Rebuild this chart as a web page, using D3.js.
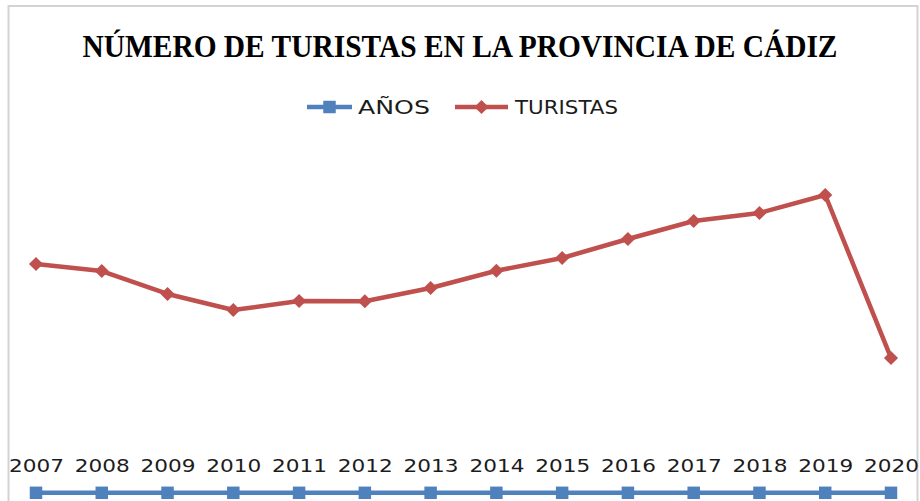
<!DOCTYPE html>
<html lang="es">

<head>
  <meta charset="UTF-8">
  <title>Turistas Cádiz</title>
  <style>
    body { margin: 0; background: #fff; }
  </style>
</head>

<body>
  <svg width="920" height="501" class="svgs"></svg>
  <script src="https://cdn.jsdelivr.net/npm/d3@7/dist/d3.min.js"></script>
  <script>
    const years = ['2007', '2008', '2009', '2010', '2011', '2012', '2013',
      '2014', '2015', '2016', '2017', '2018', '2019', '2020']
    const anos = [2007, 2008, 2009, 2010, 2011, 2012, 2013,
      2014, 2015, 2016, 2017, 2018, 2019, 2020]
    const turistas = [2323000, 2252000, 2019000, 1856000, 1948000, 1945000, 2080000,
      2255000, 2384000, 2577000, 2759000, 2841000, 3023000, 1370000]
    const seriesNames = ['AÑOS', 'TURISTAS']
    const title = 'NÚMERO DE TURISTAS EN LA PROVINCIA DE CÁDIZ'

    const blue = '#4f81bd'
    const red = '#c0504d'

    const mainsvg = d3.select('.svgs')
    const width = +(mainsvg.attr('width'))
    const height = +(mainsvg.attr('height'))

    // chart frame (bottom edge falls outside the picture)
    mainsvg.append('rect')
      .attr('x', 8.5).attr('y', 6)
      .attr('width', 909).attr('height', 540)
      .attr('fill', 'white')
      .attr('stroke', '#d3d3d3')
      .attr('stroke-width', 2)

    const xScale = d3.scalePoint()
      .domain(years)
      .range([36, 891])

    const yScale = d3.scaleLinear()
      .domain([0, 3500000])
      .range([493, 148])

    const g = mainsvg.append('g').attr('id', 'maingroup')

    // title
    g.append('text')
      .text(title)
      .attr('x', width / 2)
      .attr('y', 57)
      .attr('text-anchor', 'middle')
      .attr('font-family', 'Liberation Serif, serif')
      .attr('font-weight', 'bold')
      .attr('font-size', 31)
      .attr('textLength', 755)
      .attr('lengthAdjust', 'spacingAndGlyphs')
      .attr('fill', '#000')

    // category axis
    const xAxis = d3.axisBottom(xScale).tickSize(0).tickPadding(3)
    const axisG = g.append('g').attr('transform', 'translate(0, 456)').call(xAxis)
    axisG.select('.domain').remove()
    axisG.selectAll('.tick text')
      .attr('font-family', 'DejaVu Sans, sans-serif')
      .attr('font-size', 18)
      .attr('fill', '#1c1c1c')
      .attr('textLength', 55)
      .attr('lengthAdjust', 'spacingAndGlyphs')

    const line = d3.line()
      .x(d => xScale(d.year))
      .y(d => yScale(d.value))

    const series = [
      { name: seriesNames[0], color: blue, shape: 'square', data: years.map((y, i) => ({ year: y, value: anos[i] })) },
      { name: seriesNames[1], color: red, shape: 'diamond', data: years.map((y, i) => ({ year: y, value: turistas[i] })) }
    ]

    const squareSym = d3.symbol().type(d3.symbolSquare).size(156)
    const diamondSym = d3.symbol().type(d3.symbolSquare).size(100)

    function marker(sel, s, x, y) {
      sel.append('path')
        .attr('d', s.shape === 'square' ? squareSym() : diamondSym())
        .attr('transform', `translate(${x}, ${y})` + (s.shape === 'diamond' ? ' rotate(45)' : ''))
        .attr('fill', s.color)
    }

    series.forEach(s => {
      g.append('path')
        .datum(s.data)
        .attr('d', line)
        .attr('fill', 'none')
        .attr('stroke', s.color)
        .attr('stroke-width', 4.5)
        .attr('stroke-linejoin', 'round')
      s.data.forEach(d => marker(g, s, xScale(d.year), yScale(d.value)))
    })

    // legend
    const legend = g.append('g')
    const legendItems = [
      { s: series[0], x0: 307, x1: 352, tx: 358, tw: 72 },
      { s: series[1], x0: 455, x1: 508, tx: 515, tw: 103 }
    ]
    legendItems.forEach(it => {
      legend.append('line')
        .attr('x1', it.x0).attr('x2', it.x1)
        .attr('y1', 107).attr('y2', 107)
        .attr('stroke', it.s.color)
        .attr('stroke-width', 4.5)
      marker(legend, it.s, (it.x0 + it.x1) / 2, 107)
      legend.append('text')
        .text(it.s.name)
        .attr('x', it.tx)
        .attr('y', 114)
        .attr('font-family', 'DejaVu Sans, sans-serif')
        .attr('font-size', 20)
        .attr('fill', '#1c1c1c')
        .attr('textLength', it.tw)
        .attr('lengthAdjust', 'spacingAndGlyphs')
    })
  </script>
</body>

</html>
